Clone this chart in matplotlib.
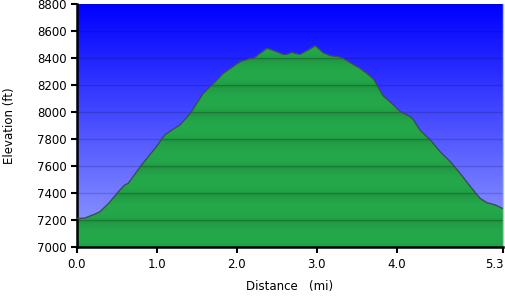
import numpy as np
import matplotlib
matplotlib.use("Agg")
import matplotlib.pyplot as plt
from matplotlib.patches import Polygon

# elevation profile (miles, feet)
dist = [0.0, 0.10, 0.25, 0.29, 0.40, 0.52, 0.60, 0.645, 0.81, 0.98,
        1.10, 1.19, 1.29, 1.42, 1.58, 1.75, 1.83, 2.04, 2.17, 2.21,
        2.29, 2.375, 2.42, 2.50, 2.58, 2.625, 2.69, 2.73, 2.79, 2.875,
        2.94, 2.98, 3.02, 3.08, 3.17, 3.27, 3.33, 3.42, 3.54, 3.625,
        3.71, 3.83, 3.96, 4.04, 4.17, 4.21, 4.29, 4.42, 4.54, 4.67,
        4.79, 4.92, 5.04, 5.125, 5.23, 5.33]
elev = [7210, 7212, 7248, 7260, 7322, 7408, 7458, 7471, 7607, 7731,
        7830, 7867, 7904, 7991, 8139, 8238, 8288, 8374, 8399, 8400,
        8436, 8473, 8466, 8448, 8429, 8429, 8444, 8436, 8429, 8456,
        8478, 8493, 8473, 8441, 8419, 8411, 8399, 8367, 8325, 8288,
        8245, 8120, 8052, 8005, 7965, 7940, 7865, 7792, 7706, 7631,
        7545, 7446, 7359, 7327, 7310, 7282]

x_ticks = [0.0, 1.0, 2.0, 3.0, 4.0, 5.33]
x_labels = ["0.0", "1.0", "2.0", "3.0", "4.0", "5.3"]
y_ticks = list(range(7000, 8801, 200))

XMAX, YMIN, YMAX = 5.33, 7000, 8800

fig = plt.figure(figsize=(5.06, 2.97), dpi=100)
ax = fig.add_axes([0.1516, 0.1694, 0.843, 0.816])
ax.set_xlim(0, XMAX)
ax.set_ylim(YMIN, YMAX)

# blue sky gradient, light at the bottom
t = np.linspace(0, 1, 256)[:, None]
top = np.array([0, 0, 255]) / 255
bot = np.array([150, 160, 255]) / 255
sky = (bot + (top - bot) * t)[:, None, :].repeat(2, axis=1)
ax.imshow(sky, extent=[0, XMAX, YMIN, YMAX], origin="lower",
          aspect="auto", zorder=0, interpolation="bilinear")

# green terrain: soft banding, lighter in the middle of each 200 ft band
e = np.arange(YMIN, YMAX + 1, 1.0)
frac = ((e - YMIN) % 200) / 200
light = np.array([36, 168, 74]) / 255
dark = np.array([30, 138, 60]) / 255
shade = np.sin(np.pi * (0.15 + 0.85 * frac)) ** 0.5
green = dark + (light - dark) * shade[:, None]
dark_lvls = np.isin((e - YMIN) % 400, [198, 199, 200, 201, 202])
green[dark_lvls] *= 0.85
green = green[:, None, :].repeat(2, axis=1)
img = ax.imshow(green, extent=[0, XMAX, YMIN, YMAX], origin="lower",
                aspect="auto", zorder=1, interpolation="nearest")
verts = [(0, YMIN)] + list(zip(dist, elev)) + [(XMAX, YMIN)]
clip = Polygon(verts, closed=True, facecolor="none", edgecolor="none",
               transform=ax.transData)
ax.add_patch(clip)
img.set_clip_path(clip)

for y in y_ticks[1:-1]:
    ax.axhline(y, color="black", alpha=0.16, lw=1, zorder=2)

ax.plot(dist, elev, color="#2f5a35", lw=1, zorder=3)

ax.set_xticks(x_ticks)
ax.set_xticklabels(x_labels)
ax.set_yticks(y_ticks)
ax.tick_params(direction="out", length=4, width=1.5, color="black",
               labelsize=8.5, pad=3)
ax.tick_params(axis="x", pad=4)
ax.get_xticklabels()[-1].set_horizontalalignment("right")

ax.spines["top"].set_visible(False)
ax.spines["right"].set_color("#9edc9e")
ax.spines["right"].set_linewidth(1)
for s in ("left", "bottom"):
    ax.spines[s].set_linewidth(1.8)
    ax.spines[s].set_color("black")

ax.set_xlabel("Distance   (mi)", fontsize=8.5)
ax.set_ylabel("Elevation (ft)", fontsize=8.5)
ax.xaxis.set_label_coords(0.5, -0.138)
ax.yaxis.set_label_coords(-0.142, 0.5)

fig.savefig("out.png", dpi=100)
